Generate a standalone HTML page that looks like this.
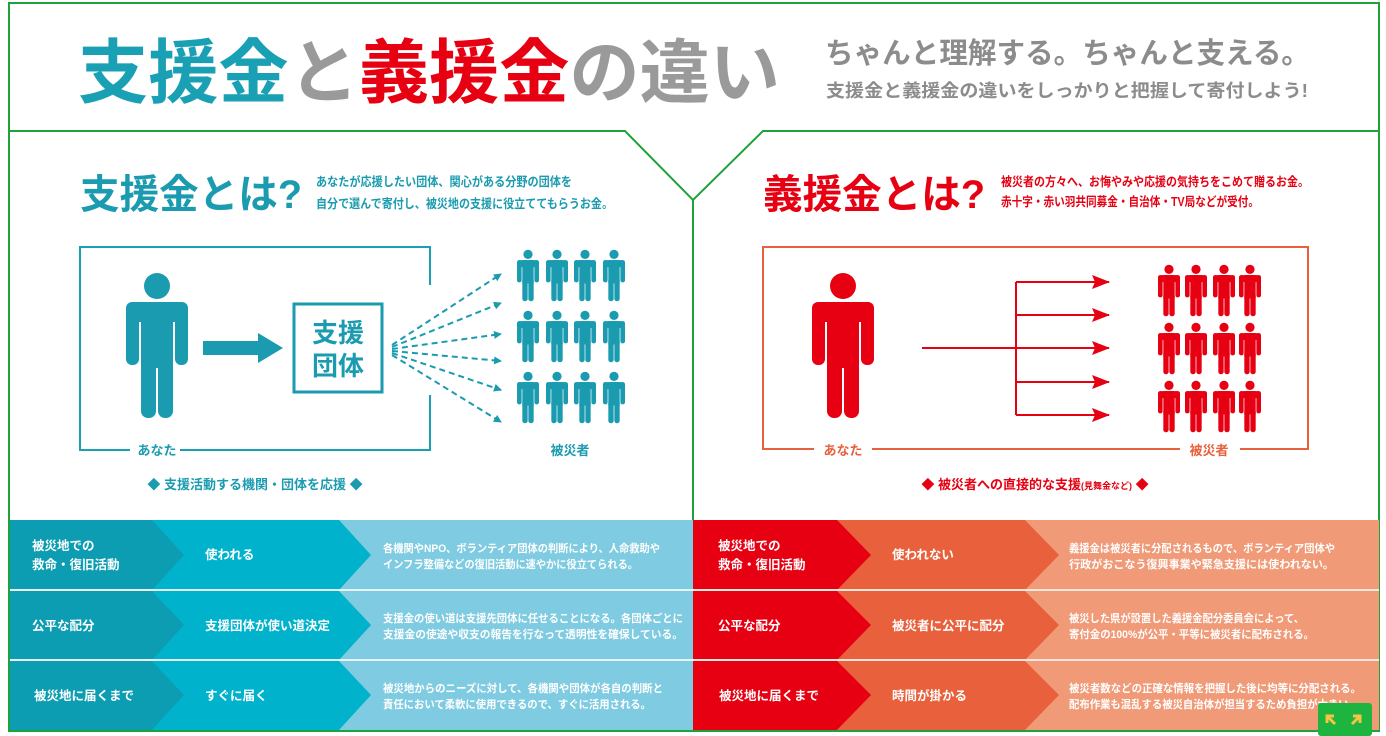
<!DOCTYPE html>
<html><head><meta charset="utf-8"><style>
html,body{margin:0;padding:0;background:#fff;}
svg{display:block;font-family:"Liberation Sans","Noto Sans CJK JP",sans-serif;font-weight:bold;}
</style></head><body>
<svg width="1386" height="736" viewBox="0 0 1386 736" xmlns="http://www.w3.org/2000/svg">
<defs>
<symbol id="p" viewBox="0 0 62 145">
<circle cx="31" cy="13" r="13"/>
<rect x="0" y="29" width="62" height="20" rx="8"/>
<rect x="0" y="29" width="13" height="63" rx="6"/>
<rect x="49" y="29" width="13" height="63" rx="6"/>
<rect x="15" y="29" width="32" height="66"/>
<rect x="15" y="80" width="15" height="65" rx="7"/>
<rect x="32" y="80" width="15" height="65" rx="7"/>
</symbol>
<marker id="ta" markerWidth="8" markerHeight="8" refX="7" refY="4" orient="auto" markerUnits="userSpaceOnUse"><path d="M0,0 L8,4 L0,8 Z" fill="#1a9bb0"/></marker>
<marker id="ra" markerWidth="18" markerHeight="14" refX="17" refY="7" orient="auto" markerUnits="userSpaceOnUse"><path d="M0,0 L18,7 L0,14 L3,7 Z" fill="#e60012"/></marker>
</defs>

<rect x="9" y="3" width="1370" height="728" fill="none" stroke="#1fa23a" stroke-width="2"/>
<path d="M9,131 H625 L693,200 L763,131 H1379" fill="none" stroke="#1fa23a" stroke-width="2"/>
<line x1="693" y1="200" x2="693" y2="520" stroke="#1fa23a" stroke-width="2"/>

<text x="78" y="97" font-size="70" textLength="702" lengthAdjust="spacingAndGlyphs"><tspan fill="#1aa0b4">支援金</tspan><tspan fill="#9a9a9a">と</tspan><tspan fill="#e60012">義援金</tspan><tspan fill="#9a9a9a">の違い</tspan></text>
<text x="825" y="63" font-size="29" fill="#8c8c8c" textLength="485" lengthAdjust="spacingAndGlyphs">ちゃんと理解する。ちゃんと支える。</text>
<text x="826" y="97" font-size="18" fill="#8c8c8c" textLength="482" lengthAdjust="spacingAndGlyphs">支援金と義援金の違いをしっかりと把握して寄付しよう!</text>

<text x="80" y="208" font-size="40" fill="#1a9bb0" textLength="222" lengthAdjust="spacingAndGlyphs">支援金とは?</text>
<text x="316" y="186" font-size="12.5" fill="#1a9bb0" textLength="256" lengthAdjust="spacingAndGlyphs">あなたが応援したい団体、関心がある分野の団体を</text>
<text x="316" y="208" font-size="12.5" fill="#1a9bb0" textLength="297" lengthAdjust="spacingAndGlyphs">自分で選んで寄付し、被災地の支援に役立ててもらうお金。</text>

<path d="M130,450 H80 V247 H430 V285 M430,395 V450 H180" fill="none" stroke="#1aa0b4" stroke-width="2"/>
<text x="157" y="455" font-size="13" fill="#1a9bb0" text-anchor="middle">あなた</text>
<text x="570" y="455" font-size="13" fill="#1a9bb0" text-anchor="middle">被災者</text>
<use href="#p" x="126" y="266" width="62" height="159" fill="#1a9bb0"/>
<path d="M203,341 H258 V333 L283,348 L258,363 V355 H203 Z" fill="#1a9bb0"/>
<rect x="294" y="304" width="88" height="88" fill="none" stroke="#1a9bb0" stroke-width="3"/>
<text x="338" y="342" font-size="26" fill="#1a9bb0" text-anchor="middle">支援</text>
<text x="338" y="375" font-size="26" fill="#1a9bb0" text-anchor="middle">団体</text>
<g stroke="#1a9bb0" stroke-width="2" stroke-dasharray="6,4" marker-end="url(#ta)">
<line x1="392" y1="345" x2="501" y2="274"/>
<line x1="392" y1="347" x2="501" y2="303"/>
<line x1="392" y1="349" x2="501" y2="334"/>
<line x1="392" y1="351" x2="501" y2="361"/>
<line x1="392" y1="353" x2="501" y2="390"/>
<line x1="392" y1="355" x2="501" y2="422"/>
</g>
<g fill="#1a9bb0">
<use href="#p" x="517" y="248" width="22" height="55"/><use href="#p" x="546" y="248" width="22" height="55"/><use href="#p" x="574" y="248" width="22" height="55"/><use href="#p" x="603" y="248" width="22" height="55"/>
<use href="#p" x="517" y="309" width="22" height="55"/><use href="#p" x="546" y="309" width="22" height="55"/><use href="#p" x="574" y="309" width="22" height="55"/><use href="#p" x="603" y="309" width="22" height="55"/>
<use href="#p" x="517" y="370" width="22" height="55"/><use href="#p" x="546" y="370" width="22" height="55"/><use href="#p" x="574" y="370" width="22" height="55"/><use href="#p" x="603" y="370" width="22" height="55"/>
</g>
<text x="255" y="489" font-size="13" fill="#1a9bb0" text-anchor="middle">◆ 支援活動する機関・団体を応援 ◆</text>

<text x="763" y="208" font-size="40" fill="#e60012" textLength="222" lengthAdjust="spacingAndGlyphs">義援金とは?</text>
<text x="1001" y="186" font-size="12.5" fill="#e60012" textLength="308" lengthAdjust="spacingAndGlyphs">被災者の方々へ、お悔やみや応援の気持ちをこめて贈るお金。</text>
<text x="1001" y="206" font-size="12.5" fill="#e60012" textLength="258" lengthAdjust="spacingAndGlyphs">赤十字・赤い羽共同募金・自治体・TV局などが受付。</text>

<path d="M814,449 H763 V247 H1308 V449 H1240 M1180,449 H872" fill="none" stroke="#e8613c" stroke-width="2"/>
<text x="843" y="455" font-size="13" fill="#e8613c" text-anchor="middle">あなた</text>
<text x="1209" y="455" font-size="13" fill="#e8613c" text-anchor="middle">被災者</text>
<use href="#p" x="812" y="266" width="62" height="159" fill="#e60012"/>
<g stroke="#e60012" stroke-width="2" fill="none">
<line x1="922" y1="348" x2="1017" y2="348"/>
<line x1="1016" y1="282" x2="1016" y2="415"/>
<g marker-end="url(#ra)">
<line x1="1016" y1="282" x2="1109" y2="282"/>
<line x1="1016" y1="315" x2="1109" y2="315"/>
<line x1="1016" y1="348" x2="1109" y2="348"/>
<line x1="1016" y1="382" x2="1109" y2="382"/>
<line x1="1016" y1="415" x2="1109" y2="415"/>
</g></g>
<g fill="#e60012">
<use href="#p" x="1158" y="264" width="22" height="53"/><use href="#p" x="1185" y="264" width="22" height="53"/><use href="#p" x="1213" y="264" width="22" height="53"/><use href="#p" x="1239" y="264" width="22" height="53"/>
<use href="#p" x="1158" y="322" width="22" height="53"/><use href="#p" x="1185" y="322" width="22" height="53"/><use href="#p" x="1213" y="322" width="22" height="53"/><use href="#p" x="1239" y="322" width="22" height="53"/>
<use href="#p" x="1158" y="380" width="22" height="53"/><use href="#p" x="1185" y="380" width="22" height="53"/><use href="#p" x="1213" y="380" width="22" height="53"/><use href="#p" x="1239" y="380" width="22" height="53"/>
</g>
<text x="1035" y="489" font-size="13" fill="#e60012" text-anchor="middle">◆ 被災者への直接的な支援<tspan font-size="9">(見舞金など)</tspan> ◆</text>

<g>
<rect x="10" y="520" width="683" height="210" fill="#7fcbe1"/>
<path d="M10,520 H339 L371,555 L339,590 H10Z M10,591 H339 L371,625 L339,660 H10Z M10,661 H339 L371,695 L339,730 H10Z" fill="#00b2cb"/>
<path d="M10,520 H152 L184,555 L152,590 H10Z M10,591 H152 L184,625 L152,660 H10Z M10,661 H152 L184,695 L152,730 H10Z" fill="#0d9db2"/>
<rect x="10" y="589" width="683" height="2" fill="#e8f5f8"/>
<rect x="10" y="659" width="683" height="2" fill="#e8f5f8"/>
</g>
<g fill="#fff" font-size="12.5">
<text x="32" y="550">被災地での</text><text x="32" y="569">救命・復旧活動</text>
<text x="32" y="630">公平な配分</text>
<text x="34" y="700">被災地に届くまで</text>
<text x="205" y="559">使われる</text>
<text x="205" y="630">支援団体が使い道決定</text>
<text x="205" y="700">すぐに届く</text>
<g font-size="11">
<text x="383" y="552" textLength="277" lengthAdjust="spacingAndGlyphs">各機関やNPO、ボランティア団体の判断により、人命救助や</text>
<text x="383" y="568" textLength="255" lengthAdjust="spacingAndGlyphs">インフラ整備などの復旧活動に速やかに役立てられる。</text>
<text x="383" y="622" textLength="300" lengthAdjust="spacingAndGlyphs">支援金の使い道は支援先団体に任せることになる。各団体ごとに</text>
<text x="383" y="638" textLength="300" lengthAdjust="spacingAndGlyphs">支援金の使途や収支の報告を行なって透明性を確保している。</text>
<text x="383" y="692" textLength="280" lengthAdjust="spacingAndGlyphs">被災地からのニーズに対して、各機関や団体が各自の判断と</text>
<text x="383" y="708" textLength="268" lengthAdjust="spacingAndGlyphs">責任において柔軟に使用できるので、すぐに活用される。</text>
</g></g>

<g>
<rect x="693" y="520" width="686" height="210" fill="#f09a78"/>
<path d="M693,520 H1025 L1059,555 L1025,590 H693Z M693,591 H1025 L1059,625 L1025,660 H693Z M693,661 H1025 L1059,695 L1025,730 H693Z" fill="#e8613c"/>
<path d="M693,520 H837 L871,555 L837,590 H693Z M693,591 H837 L871,625 L837,660 H693Z M693,661 H837 L871,695 L837,730 H693Z" fill="#e60012"/>
<rect x="693" y="589" width="686" height="2" fill="#fbe6dc"/>
<rect x="693" y="659" width="686" height="2" fill="#fbe6dc"/>
</g>
<g fill="#fff" font-size="12.5">
<text x="718" y="550">被災地での</text><text x="718" y="569">救命・復旧活動</text>
<text x="718" y="630">公平な配分</text>
<text x="719" y="700">被災地に届くまで</text>
<text x="892" y="559">使われない</text>
<text x="892" y="630">被災者に公平に配分</text>
<text x="892" y="700">時間が掛かる</text>
<g font-size="11">
<text x="1069" y="552" textLength="266" lengthAdjust="spacingAndGlyphs">義援金は被災者に分配されるもので、ボランティア団体や</text>
<text x="1069" y="568" textLength="265" lengthAdjust="spacingAndGlyphs">行政がおこなう復興事業や緊急支援には使われない。</text>
<text x="1069" y="622" textLength="235" lengthAdjust="spacingAndGlyphs">被災した県が設置した義援金配分委員会によって、</text>
<text x="1069" y="638" textLength="245" lengthAdjust="spacingAndGlyphs">寄付金の100%が公平・平等に被災者に配布される。</text>
<text x="1069" y="692" textLength="292" lengthAdjust="spacingAndGlyphs">被災者数などの正確な情報を把握した後に均等に分配される。</text>
<text x="1069" y="708" textLength="290" lengthAdjust="spacingAndGlyphs">配布作業も混乱する被災自治体が担当するため負担が大きい。</text>
</g></g>

<rect x="1318" y="703" width="54" height="33" rx="3" fill="#1db540"/>
<path d="M1335,724 L1327,716 M1327,723 V716 H1334 M1352,724 L1360,716 M1353,716 H1360 V723" stroke="#f6c343" stroke-width="3" fill="none"/>
</svg>
</body></html>
